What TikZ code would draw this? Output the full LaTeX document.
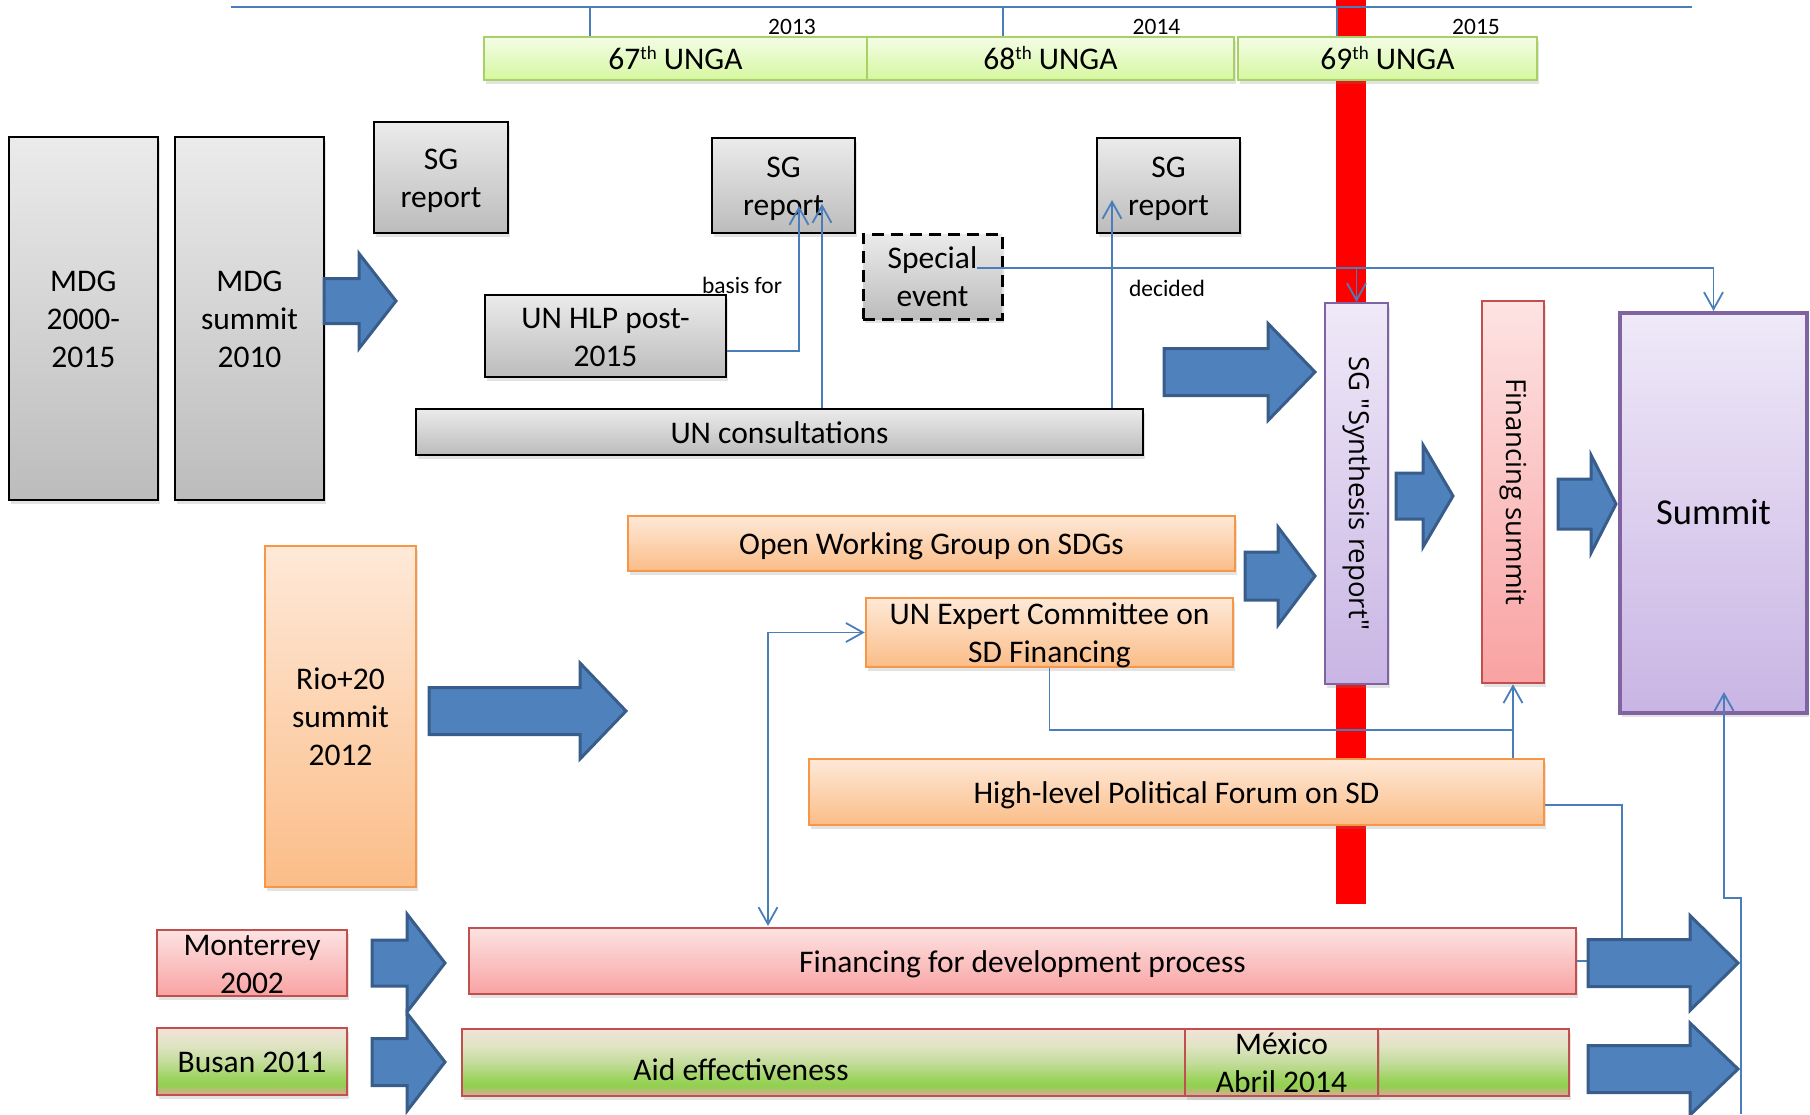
\documentclass[tikz,border=0pt]{standalone}
\usepackage{fontspec}
\setmainfont{Carlito}
\newfontfamily\osans{Open Sans}
\usetikzlibrary{arrows.meta,shadows,calc}

\definecolor{bluefill}{HTML}{4F81BD}
\definecolor{blueedge}{HTML}{385D8A}
\definecolor{conncol}{HTML}{4A7EBB}
\definecolor{grayT}{HTML}{EBEBEB}
\definecolor{grayB}{HTML}{BCBCBC}
\definecolor{orT}{HTML}{FEE9D8}
\definecolor{orB}{HTML}{FBBD88}
\definecolor{orE}{HTML}{F79646}
\definecolor{pkT}{HTML}{FDE3E3}
\definecolor{pkB}{HTML}{F9A2A2}
\definecolor{pkE}{HTML}{C0504D}
\definecolor{lvT}{HTML}{EFE9F8}
\definecolor{lvB}{HTML}{C9B5E4}
\definecolor{lvE}{HTML}{8064A2}
\definecolor{grT}{HTML}{F3FDE6}
\definecolor{grB}{HTML}{D6F7A0}
\definecolor{grE}{HTML}{A8D064}
\definecolor{bzT}{HTML}{F2E2D8}
\definecolor{bzQ}{HTML}{E0E4C4}
\definecolor{bzH}{HTML}{C4DC9C}
\definecolor{bzL}{HTML}{9CD35E}
\definecolor{bzM}{HTML}{92D050}
\definecolor{bzB}{HTML}{DEA89A}
\definecolor{redbar}{HTML}{FF0000}

\pgfdeclareverticalshading{busanshade}{100bp}{color(0bp)=(bzB); color(25bp)=(bzB); color(32.5bp)=(bzM); color(37.5bp)=(bzL); color(50bp)=(bzH); color(62.5bp)=(bzQ); color(75bp)=(bzT); color(100bp)=(bzT)}

\newcommand\mainsz{\fontsize{31.5}{38}\selectfont}
\newcommand\smallsz{\fontsize{23.5}{28}\selectfont}
\newcommand\rotsz{\fontsize{27.5}{32}\selectfont}
\newcommand\summitsz{\fontsize{36.5}{42}\selectfont}
\newcommand\thsup{\raisebox{10pt}{\fontsize{19}{19}\selectfont th}}
% uniform line metrics (first-line height, last-line depth)
\newcommand\tp{\rule{0pt}{30pt}}
\newcommand\bt{\rule[-7.5pt]{0pt}{7.5pt}}

\newcommand\bigarr[6]{% x-start, head-base, tip, y-centre, shaft half, head half
  \draw[bigarrow] (#1,{#4-#5}) -- (#2,{#4-#5}) -- (#2,{#4-#6}) -- (#3,#4)
    -- (#2,{#4+#6}) -- (#2,{#4+#5}) -- (#1,{#4+#5}) -- cycle;}

\tikzset{
  box/.style={inner xsep=0pt, inner ysep=-6pt, align=center, font=\mainsz,
    drop shadow={opacity=0.22,shadow xshift=2pt,shadow yshift=-4pt}},
  graybox/.style={box, draw=black, line width=2.5pt, top color=grayT, bottom color=grayB},
  orangebox/.style={box, draw=orE, line width=2.5pt, top color=orT, bottom color=orB},
  pinkbox/.style={box, draw=pkE, line width=2.5pt, top color=pkT, bottom color=pkB},
  lavbox/.style={box, draw=lvE, line width=2pt, top color=lvT, bottom color=lvB},
  ungabox/.style={box, draw=grE, line width=2.5pt, top color=grT, bottom color=grB},
  busanbox/.style={box, draw=pkE, line width=2.5pt, shading=busanshade},
  dashbox/.style={graybox, line width=3pt, dash pattern=on 12pt off 7pt},
  bigarrow/.style={fill=bluefill, draw=blueedge, line width=3pt, line join=miter},
  tline/.style={draw=conncol, line width=1.8pt},
  conn/.style={draw=conncol, line width=1.8pt, -{Straight Barb[length=17pt,width=19pt]}},
  connboth/.style={draw=conncol, line width=1.8pt, {Straight Barb[length=17pt,width=19pt]}-{Straight Barb[length=17pt,width=19pt]}},
  lbl/.style={inner sep=0pt, font=\smallsz},
}

\begin{document}
\begin{tikzpicture}[x=1pt,y=-1pt]
\useasboundingbox (0,0) rectangle (1810,1114);

% red milestone bar
\fill[redbar] (1336,0) rectangle (1366,904);

% timeline
\coordinate (tlA) at (231,7);
\coordinate (tlB) at (1692,7);
\draw[tline] (tlA) -- (tlB);
\foreach \x in {590,1003,1337} \draw[tline] (\x,7) -- (\x,37);
\node[lbl] (y13) at (792,27) {2013};
\node[lbl] (y14) at (1156.5,27) {2014};
\node[lbl] (y15) at (1476,27) {2015};

% UNGA sessions
\node[ungabox, minimum width=383pt, minimum height=43pt] (u67) at (675.5,58.5) {\tp 67\thsup{} UNGA\bt};
\node[ungabox, minimum width=367pt, minimum height=43pt] (u68) at (1050.5,58.5) {\tp 68\thsup{} UNGA\bt};
\node[ungabox, minimum width=299pt, minimum height=43pt] (u69) at (1387.5,58.5) {\tp 69\thsup{} UNGA\bt};

% gray boxes
\node[graybox, minimum width=149pt, minimum height=363pt] (mdg1) at (83.3,318.5) {\tp MDG\\2000-\\2015\bt};
\node[graybox, minimum width=149pt, minimum height=363pt] (mdg2) at (249.5,318.5) {\tp MDG\\summit\\2010\bt};
\node[graybox, minimum width=134pt, minimum height=111pt] (sg1) at (441,177.5) {\tp SG\\report\bt};
\node[graybox, minimum width=143pt, minimum height=95pt] (sg2) at (783.5,185.5) {\tp SG\\report\bt};
\node[graybox, minimum width=143pt, minimum height=95pt] (sg3) at (1168.5,185.5) {\tp SG\\report\bt};
\node[graybox, minimum width=241pt, minimum height=82pt] (hlp) at (605.5,336) {\tp UN HLP post-\\2015\bt};
\node[dashbox, minimum width=139pt, minimum height=85pt] (spec) at (932.5,276.5) {\tp Special\\event\bt};
\node[graybox, minimum width=727pt, minimum height=46pt] (cons) at (779.5,432) {\tp UN consultations\bt};

% synthesis / summits
\node[lavbox, minimum width=63pt, minimum height=381pt] (synth) at (1356.5,493.5) {};
\node[inner sep=0pt, rotate=-90, font=\osans\rotsz] (synthtxt) at (synth.center) {SG "Synthesis report"};
\node[pinkbox, minimum width=62pt, minimum height=382pt] (finsum) at (1513,492) {};
\node[inner sep=0pt, rotate=-90, font=\osans\rotsz] (finsumtxt) at (finsum.center) {Financing summit};
\node[lavbox, line width=4pt, minimum width=187pt, minimum height=400pt, font=\summitsz] (summit) at (1713.5,513) {\tp Summit\bt};

% orange row
\node[orangebox, minimum width=607pt, minimum height=55pt] (owg) at (931.5,543.5) {\tp Open Working Group on SDGs\bt};
\node[orangebox, minimum width=367pt, minimum height=69pt] (unexp) at (1049.5,632.5) {\tp UN Expert Committee on\\SD Financing\bt};
\node[orangebox, minimum width=151pt, minimum height=341pt] (rio) at (340.5,716.5) {\tp Rio+20\\summit\\2012\bt};
\node[orangebox, minimum width=735pt, minimum height=66pt] (hlpf) at (1176.5,792) {\tp High-level Political Forum on SD\bt};

% bottom rows
\node[pinkbox, minimum width=190pt, minimum height=66pt] (mont) at (252,963) {\tp Monterrey\\2002\bt};
\node[busanbox, minimum width=190pt, minimum height=67pt] (busan) at (252,1061.5) {\tp Busan 2011\bt};
\node[pinkbox, minimum width=1107pt, minimum height=66pt] (ffd) at (1022.5,961) {\tp Financing for development process\bt};
\node[busanbox, minimum width=1107pt, minimum height=67pt] (aid) at (1015.5,1062.5) {};
\node[inner sep=0pt, font=\mainsz] (aidtxt) at (741,1070) {Aid effectiveness};
\node[busanbox, minimum width=193pt, minimum height=67pt] (mex) at (1281.5,1062.5) {\tp México\\Abril 2014\bt};

% labels
\node[lbl] (basis) at (742,285) {basis for};
\node[lbl] (decided) at (1167,288) {decided};

% connectors
\coordinate (t1) at (799,206);
\coordinate (t2) at (822,204);
\coordinate (t3) at (1112,200);
\coordinate (se) at (977,268);
\coordinate (jn) at (1513,730);
\coordinate (h2) at (1622,945);
\coordinate (f2) at (1600,961);
\coordinate (b1) at (1741,1114);
\coordinate (b2) at (1724,692);
\coordinate (d1) at (768,926);

\draw[conn] ($(hlp.east)+(0,15)$) -| (t1);
\draw[conn] (cons.north -| t2) -- (t2);
\draw[conn] (cons.north -| t3) -- (t3);
\draw[conn] (se) -| (synth.north);
\draw[conn] (se) -| (summit.north);
\draw[tline] (unexp.south) |- (jn);
\draw[conn] (hlpf.north -| finsum.south) -- (finsum.south);
\draw[tline] ($(hlpf.east)+(0,13)$) -| (h2);
\draw[tline] (ffd.east) -- (f2);
\draw[conn] (b1) -- ++(0,-216) -| (b2);
\draw[connboth] (unexp.west) -| (d1);

% big block arrows
\bigarr{324}{359}{396}{301}{22.5}{47.5}
\bigarr{1164}{1268}{1315}{372}{23.5}{48.5}
\bigarr{1245}{1278}{1315}{576}{24}{49}
\bigarr{1396}{1423}{1453}{496}{23}{51}
\bigarr{1558}{1591}{1616}{504}{25}{49}
\bigarr{429}{580}{626}{711}{23.5}{48}
\bigarr{372}{407}{445}{963}{23}{49}
\bigarr{372}{407}{445}{1062}{23.5}{49}
\bigarr{1588}{1690}{1738}{963}{23.5}{47.5}
\bigarr{1588}{1690}{1738}{1069}{23.5}{46}
\end{tikzpicture}
\end{document}
